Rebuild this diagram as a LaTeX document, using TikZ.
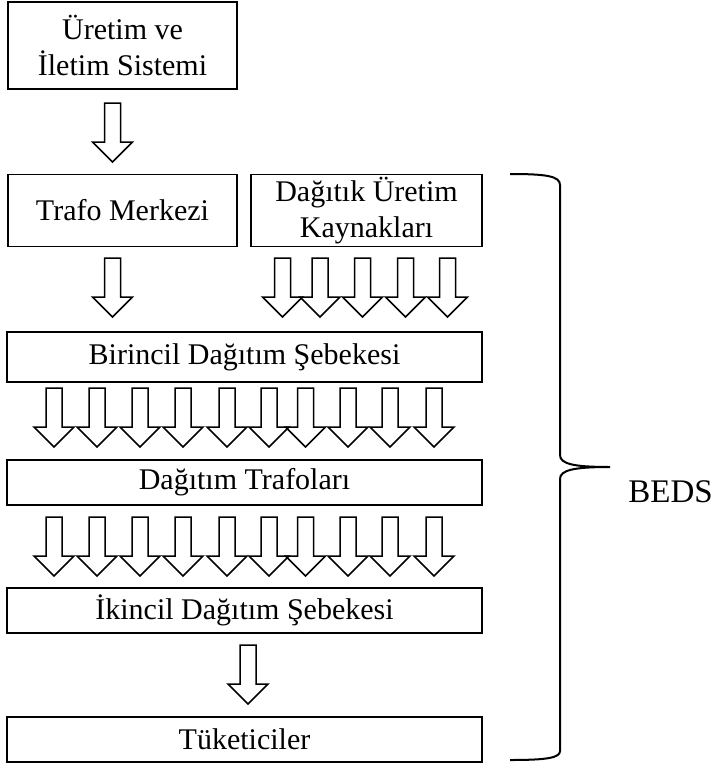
\documentclass[tikz,border=0pt]{standalone}
\usepackage{fontspec}
\setmainfont{Liberation Serif}
\begin{document}
\begin{tikzpicture}[x=1bp,y=-1bp,
  box/.style={draw=black, line width=1.8bp, inner sep=0pt, align=center,
    font=\fontsize{30bp}{35.5bp}\selectfont},
  arrowline/.style={draw=black, line width=1.5bp, line join=miter},
  bracestroke/.style={draw=black, line width=2bp},
  hollow/.pic={
    \draw[arrowline] (-8,0) -- (8,0) -- (8,39) -- (20,39) -- (0,59)
      -- (-20,39) -- (-8,39) -- cycle;
  }]
\useasboundingbox (0,0) rectangle (717,764);

% blocks
\node[box, minimum width=229bp, minimum height=87bp] (gen) at (122.5,45.5)
  {Üretim ve\\İletim Sistemi};
\node[box, minimum width=229bp, minimum height=72bp] (trafo) at (122.5,210.5)
  {Trafo Merkezi};
\node[box, minimum width=231bp, minimum height=72bp] (dg) at (366.5,210.5)
  {Dağıtık Üretim\\Kaynakları};
\node[box, minimum width=475bp, minimum height=50bp] (prim) at (244.5,357)
  {Birincil Dağıtım Şebekesi};
\node[box, minimum width=475bp, minimum height=45bp] (dtr) at (244.5,482.5)
  {Dağıtım Trafoları};
\node[box, minimum width=475bp, minimum height=45bp] (sec) at (244.5,610.5)
  {İkincil Dağıtım Şebekesi};
\node[box, minimum width=475bp, minimum height=45bp] (cons) at (244.5,739.5)
  {Tüketiciler};

% single block arrows
\pic (agen) at (112.5,103) {hollow};
\pic (atrafo) at (112.5,258) {hollow};
\pic (asec) at (248,645) {hollow};

% arrows from distributed generation
\foreach \cx [count=\i] in {282.5,320,362.5,405.5,447.5}
  \pic (adg\i) at (\cx,258) {hollow};

% arrows below the primary network and the distribution transformers
\foreach \cx [count=\i] in {54,97,140,183,227,269,305.5,348,390,434}{
  \pic (aprim\i) at (\cx,388) {hollow};
  \pic (adtr\i) at (\cx,517) {hollow};
}

% right brace grouping the distribution system
\coordinate (btop) at (510,174);
\coordinate (btip) at (610,467);
\coordinate (bbot) at (510,760);
\draw[bracestroke] (btop) .. controls (546,174) and (560,176) .. (560,185)
  -- (560,455) .. controls (560,464) and (574,467) .. (btip)
  .. controls (574,467) and (560,470) .. (560,479)
  -- (560,751) .. controls (560,758) and (546,760) .. (bbot);
\node[font=\fontsize{33bp}{38bp}\selectfont, inner sep=0pt] (beds) at (670.5,492) {BEDS};
\end{tikzpicture}
\end{document}
